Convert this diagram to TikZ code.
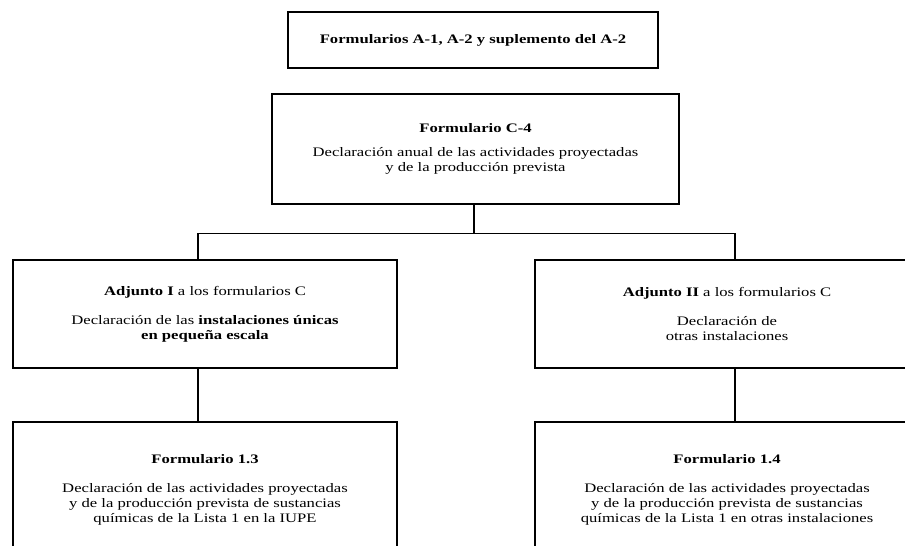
\documentclass[tikz,border=0pt]{standalone}
\usepackage{fontspec}
\setmainfont{Liberation Serif}[FakeStretch=1.28]
\usetikzlibrary{calc}
\tikzset{
  box/.style={draw, line width=1.3pt, rectangle, align=center, inner sep=0pt,
    font=\fontsize{13}{15}\selectfont},
  link/.style={line width=1.3pt}
}
\begin{document}
\begin{tikzpicture}[x=1pt,y=-1pt]
\clip (0,0) rectangle (905,546);
\fill[white] (0,0) rectangle (905,546);

% top row
\node[box, minimum width=370pt, minimum height=56pt] (forma) at (473,40)
  {\textbf{Formularios A-1, A-2 y suplemento del A-2}};

\node[box, minimum width=407pt, minimum height=110pt] (c4) at (475.5,149)
  {\textbf{Formulario C-4}\\[9pt]
   Declaración anual de las actividades proyectadas\\
   y de la producción prevista};

% attachments
\node[box, minimum width=384pt, minimum height=108pt] (adj1) at (205,314)
  {\textbf{Adjunto I} a los formularios C\\[14pt]
   Declaración de las \textbf{instalaciones únicas}\\
   \textbf{en pequeña escala}};

\node[box, minimum width=384pt, minimum height=108pt] (adj2) at (727,314)
  {\textbf{Adjunto II} a los formularios C\\[14pt]
   Declaración de\\
   otras instalaciones};

% schedule 1 forms
\node[box, minimum width=384pt, minimum height=136pt] (f13) at (205,490)
  {\textbf{Formulario 1.3}\\[14pt]
   Declaración de las actividades proyectadas\\
   y de la producción prevista de sustancias\\
   químicas de la Lista 1 en la IUPE};

\node[box, minimum width=384pt, minimum height=136pt] (f14) at (727,490)
  {\textbf{Formulario 1.4}\\[14pt]
   Declaración de las actividades proyectadas\\
   y de la producción prevista de sustancias\\
   químicas de la Lista 1 en otras instalaciones};

% connectors
\coordinate (hub) at ([yshift=-29pt]c4.south);
\coordinate (a1) at ([xshift=-7pt]adj1.north);
\coordinate (a2) at ([xshift=8pt]adj2.north);
\draw[link] ([xshift=-1.5pt]c4.south) -- ([xshift=-1.5pt]hub);
\draw[link] (a1) |- (hub) -| (a2);
\draw[link] ([xshift=-7pt]adj1.south) -- ([xshift=-7pt]f13.north);
\draw[link] ([xshift=8pt]adj2.south) -- ([xshift=8pt]f14.north);
\end{tikzpicture}
\end{document}
